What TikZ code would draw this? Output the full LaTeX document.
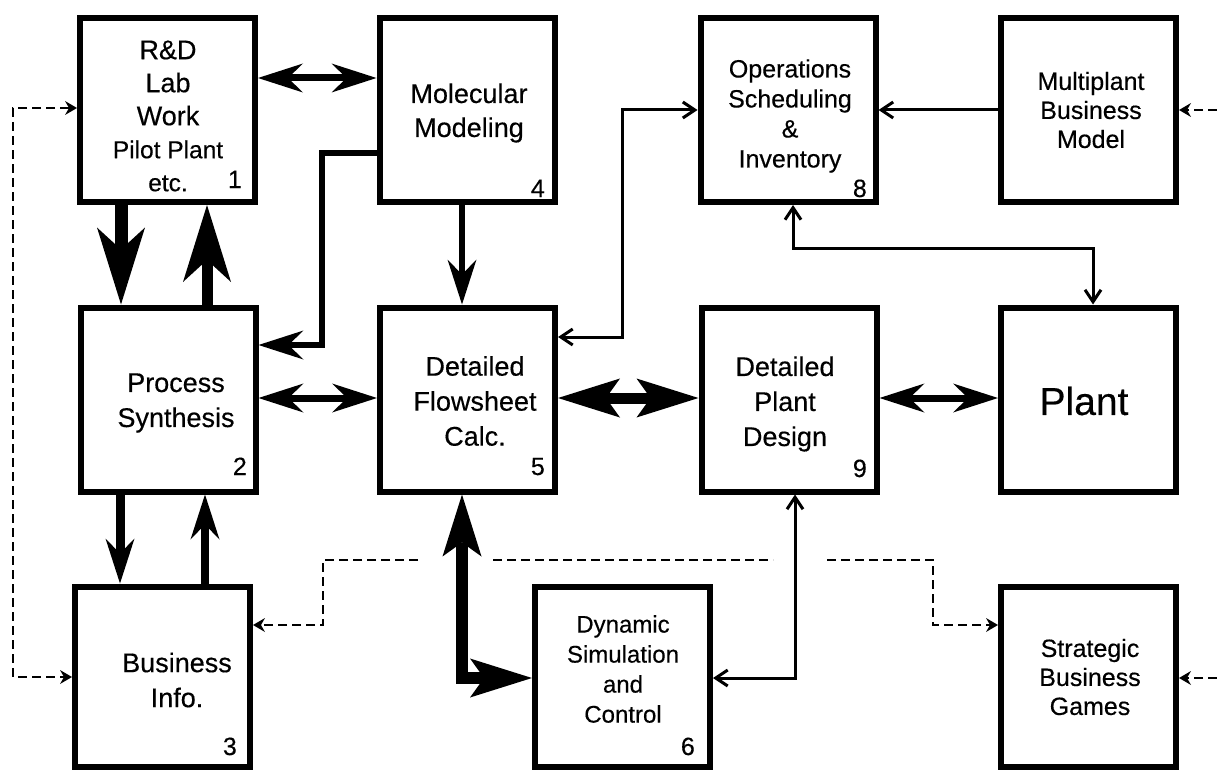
\documentclass[tikz,border=0pt]{standalone}
\usepackage{fontspec}
\setmainfont{Liberation Sans}[FakeBold=0.4]
\usetikzlibrary{arrows.meta,calc}
\tikzset{
  medtip/.tip={Stealth[length=45pt,width=29pt,inset=15pt,line width=0pt]},
  bigtip/.tip={Stealth[length=77pt,width=48pt,inset=22pt,line width=0pt]},
  hugetip/.tip={Stealth[length=62pt,width=39pt,inset=14pt,line width=0pt]},
  thintip/.tip={Straight Barb[length=12pt,width=16pt]},
  dashtip/.tip={Stealth[length=12pt,width=14pt,inset=4pt,line width=0pt]},
}
\begin{document}
\begin{tikzpicture}[x=1pt,y=-1pt,
  box/.style={draw, line width=6pt, minimum width=175pt, minimum height=184pt, inner sep=0pt},
  lowbox/.style={box, minimum height=180pt},
  txt/.style={align=center, inner sep=0pt},
  big/.style={font=\fontsize{27}{35}\selectfont},
  small/.style={font=\fontsize{25}{30}\selectfont},
  num/.style={anchor=base east, inner sep=0pt, font=\fontsize{25}{30}\selectfont},
  medline/.style={line width=7pt, line join=miter},
  thinline/.style={line width=3pt, line join=miter},
  dashline/.style={line width=2.8pt, dash pattern=on 9pt off 5pt, line join=miter},
]
\useasboundingbox (0,0) rectangle (1217,773);

% ---- boxes ----
\node[box] (b1) at (167.5,110) {};
\node[box] (b4) at (467,110) {};
\node[box] (b8) at (788,110) {};
\node[box] (bM) at (1088.5,110) {};
\node[box] (b2) at (168,399.5) {};
\node[box] (b5) at (467.5,399.5) {};
\node[box] (b9) at (789,399.5) {};
\node[box] (bP) at (1088.5,399.5) {};
\node[lowbox] (b3) at (162.5,676.5) {};
\node[lowbox] (b6) at (622.5,676.5) {};
\node[lowbox] (bS) at (1088.5,676.5) {};

% ---- box texts ----
\node[txt, font=\fontsize{27}{33}\selectfont] (t1) at (168,116)
  {R\&D\\Lab\\Work\\\fontsize{24.5}{31}\selectfont Pilot Plant\\\fontsize{24.5}{31}\selectfont etc.};
\node[txt, font=\fontsize{27}{34}\selectfont] (t4) at (469,113) {Molecular\\Modeling};
\node[txt, small] (t8) at (790,116) {Operations\\Scheduling\\\&\\Inventory};
\node[txt, font=\fontsize{25}{29}\selectfont] (tM) at (1091,110) {Multiplant\\Business\\Model};
\node[txt, big] (t2) at (176,403) {Process\\Synthesis};
\node[txt, big] (t5) at (475,401) {Detailed\\Flowsheet\\Calc.};
\node[txt, big] (t9) at (785,404) {Detailed\\Plant\\Design};
\node[txt, font=\fontsize{39}{45}\selectfont] (tP) at (1084,401) {Plant};
\node[txt, big] (t3) at (177,680) {Business\\Info.};
\node[txt, font=\fontsize{24}{30}\selectfont] (t6) at (623,669) {Dynamic\\Simulation\\and\\Control};
\node[txt, font=\fontsize{25}{29}\selectfont] (tS) at (1090,677) {Strategic\\Business\\Games};

% ---- box numbers ----
\node[num] (n1) at ($(b1.south east)+(-16,-17)$) {1};
\node[num] (n4) at ($(b4.south east)+(-12.5,-8)$) {4};
\node[num] (n8) at ($(b8.south east)+(-11.5,-8)$) {8};
\node[num] (n2) at ($(b2.south east)+(-11.5,-19.5)$) {2};
\node[num] (n5) at ($(b5.south east)+(-13,-19.5)$) {5};
\node[num] (n9) at ($(b9.south east)+(-12.5,-17.5)$) {9};
\node[num] (n3) at ($(b3.south east)+(-16,-14.5)$) {3};
\node[num] (n6) at ($(b6.south east)+(-18,-14.5)$) {6};

% ---- free ends of the dashed lines ----
\coordinate (mR) at (1217,110);
\coordinate (sR) at (1217,678);
\coordinate (dA) at (418,560);
\coordinate (dB) at (493,560);
\coordinate (dC) at (773,560);
\coordinate (dD) at (827,560);

% ---- heavy connectors ----
\draw[line width=13pt, -bigtip] (b1.south -| 121,0) -- (b2.north -| 121,0);
\draw[line width=11pt, -bigtip] (b2.north -| 207,0) -- (b1.south -| 207,0);
\draw[medline, medtip-medtip] (b1.east |- 0,78) -- (b4.west |- 0,78);
\draw[line width=6pt, -medtip] (b4.west |- 0,153) -| (322,345) -- (b2.east |- 0,345);
\draw[line width=6pt, -medtip] (b4.south -| 462,0) -- (b5.north -| 462,0);
\draw[medline, medtip-medtip] (b2.east |- 0,398) -- (b5.west |- 0,398);
\draw[line width=11pt, hugetip-hugetip] (b5.east |- 0,398) -- (b9.west |- 0,398);
\draw[medline, medtip-medtip] (b9.east |- 0,398) -- (bP.west |- 0,398);
\draw[line width=9pt, -medtip] (b2.south -| 120,0) -- (b3.north -| 120,0);
\draw[line width=8pt, -medtip] (b3.north -| 205,0) -- (b2.south -| 205,0);
\draw[line width=12pt, line join=miter, hugetip-hugetip] (b5.south -| 462,0) |- (b6.west |- 0,678);

% ---- thin connectors ----
\draw[thinline, thintip-thintip] (b5.east |- 0,337) -| (622,110) -- (b8.west |- 0,110);
\draw[thinline, -thintip] (bM.west) -- (b8.east);
\draw[thinline, thintip-thintip] (b8.south -| 793,0) |- (1093,248) -- (bP.north -| 1093,0);
\draw[thinline, thintip-thintip] (b9.south -| 795,0) |- (b6.east |- 0,678);

% ---- dashed connectors ----
\draw[dashline, -dashtip] (mR) -- (bM.east);
\draw[dashline, -dashtip] (sR) -- (bS.east |- 0,678);
\draw[dashline, dashtip-dashtip] (b1.west |- 0,108) -| (13,677) -- (b3.west |- 0,677);
\draw[dashline, -dashtip] (dA) -- (323,560) |- (b3.east |- 0,625);
\draw[dashline] (dB) -- (dC);
\draw[dashline, -dashtip] (dD) -- (933,560) |- (bS.west |- 0,625);
\end{tikzpicture}
\end{document}
